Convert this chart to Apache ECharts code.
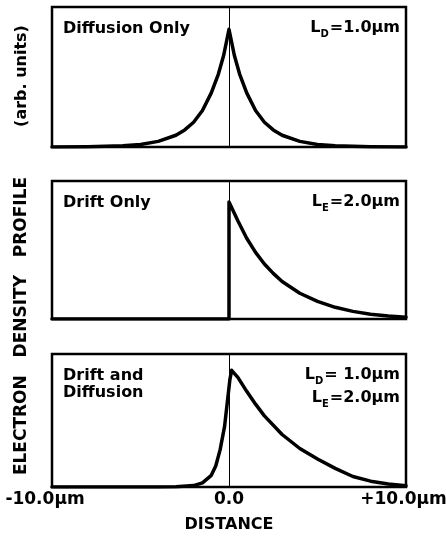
<!DOCTYPE html>
<html>
<head>
<meta charset="utf-8">
<script src="https://cdn.jsdelivr.net/npm/echarts@6/dist/echarts.min.js"></script>
<style>
  html, body { margin: 0; padding: 0; background: #fff; }
  #chart { width: 446px; height: 537px; }
</style>
</head>
<body>
<div id="chart"></div>
<script>
// Electron density profiles (arb. units) versus distance in micrometres.

// Diffusion only, L_D = 1.0 um
const diffX = [-10, -8, -6, -5, -4, -3, -2.5, -2, -1.5, -1, -0.6, -0.3, 0, 0.3, 0.6, 1, 1.5, 2, 2.5, 3, 4, 5, 6, 8, 10];
const diffY = [0, 0.003, 0.011, 0.022, 0.048, 0.1, 0.145, 0.21, 0.31, 0.46, 0.62, 0.78, 1.0, 0.78, 0.62, 0.46, 0.31, 0.21, 0.145, 0.1, 0.048, 0.022, 0.011, 0.003, 0];

// Drift only, L_E = 2.0 um
const driftX = [-10, 0, 0, 0.5, 1, 1.5, 2, 2.5, 3, 4, 5, 6, 7, 8, 9, 10];
const driftY = [0, 0, 1.0, 0.84, 0.69, 0.57, 0.47, 0.39, 0.32, 0.22, 0.15, 0.1, 0.065, 0.04, 0.025, 0.015];

// Drift and diffusion, L_D = 1.0 um, L_E = 2.0 um
const bothX = [-10, -4, -3, -2, -1.5, -1, -0.75, -0.5, -0.25, -0.1, 0.05, 0.15, 0.5, 1, 1.5, 2, 3, 4, 5, 6, 7, 8, 9, 10];
const bothY = [0, 0, 0.003, 0.012, 0.035, 0.1, 0.18, 0.32, 0.52, 0.72, 0.92, 1.0, 0.94, 0.82, 0.71, 0.61, 0.45, 0.33, 0.24, 0.16, 0.09, 0.05, 0.025, 0.01];

const xTickLabels = ['-10.0\u03bcm', '0.0', '+10.0\u03bcm'];
const panelTitles = ['Diffusion Only', 'Drift Only', 'Drift and\nDiffusion'];
const panelParams = [
  [['L', 'D', '=1.0\u03bcm']],
  [['L', 'E', '=2.0\u03bcm']],
  [['L', 'D', '= 1.0\u03bcm'], ['L', 'E', '=2.0\u03bcm']]
];
const yMax = [1.19, 1.18, 1.14];

const FONT = '"DejaVu Sans", "Liberation Sans", sans-serif';

const grids = [
  { left: 52, right: 40, top: 7, height: 140 },
  { left: 52, right: 40, top: 181, height: 138 },
  { left: 52, right: 40, top: 354, height: 133 }
].map(g => Object.assign(g, {
  show: true, borderColor: '#000', borderWidth: 2.5, backgroundColor: 'transparent',
  containLabel: false, outerBoundsMode: 'none'
}));

const tickFont = { color: '#000', fontFamily: FONT, fontWeight: 'bold', fontSize: 17 };

const xAxes = grids.map((g, i) => {
  const last = i === grids.length - 1;
  return {
    type: 'value', gridIndex: i, min: -10, max: 10, interval: 10,
    axisLine: { show: false }, axisTick: { show: false }, splitLine: { show: false },
    axisLabel: last ? Object.assign({
      show: true, margin: 4, hideOverlap: false,
      formatter: v => {
        const idx = Math.round((v + 10) / 10);
        const t = xTickLabels[idx];
        if (idx === 0) return '{l|' + t + '}';
        if (idx === 2) return '{r|' + t + '}';
        return t;
      },
      rich: {
        l: Object.assign({ padding: [0, 14, 0, 0] }, tickFont),
        r: Object.assign({ padding: [0, 5, 0, 0] }, tickFont)
      }
    }, tickFont) : { show: false },
    name: last ? 'DISTANCE' : '',
    nameLocation: 'middle', nameGap: 30,
    nameTextStyle: { color: '#000', fontFamily: FONT, fontWeight: 'bold', fontSize: 16 }
  };
});

const yAxes = grids.map((g, i) => ({
  type: 'value', gridIndex: i, min: 0, max: yMax[i], show: false
}));

function pairs(xs, ys) { return xs.map((x, i) => [x, ys[i]]); }
const curves = [pairs(diffX, diffY), pairs(driftX, driftY), pairs(bothX, bothY)];

const series = curves.map((data, i) => ({
  type: 'line', xAxisIndex: i, yAxisIndex: i, data,
  showSymbol: false, smooth: false, silent: true, animation: false,
  lineStyle: { color: '#000', width: 3.5, cap: 'round', join: 'round' },
  markLine: {
    silent: true, symbol: ['none', 'none'], label: { show: false },
    lineStyle: { color: '#000', width: 1, type: 'solid' },
    data: [{ xAxis: 0 }]
  }
}));

const rich = {
  n: { fontFamily: FONT, fontWeight: 'bold', fontSize: 16, color: '#000', lineHeight: 16, verticalAlign: 'top' },
  s: { fontFamily: FONT, fontWeight: 'bold', fontSize: 10, color: '#000', lineHeight: 10, verticalAlign: 'top', padding: [9, 1, 0, 0] }
};

const graphic = [];
panelTitles.forEach((t, i) => {
  const g = grids[i];
  graphic.push({
    type: 'text', left: 63, top: g.top + 13,
    style: { text: t, fontFamily: FONT, fontWeight: 'bold', fontSize: 16, lineHeight: 17, fill: '#000' }
  });
  panelParams[i].forEach((p, j) => {
    graphic.push({
      type: 'text', right: 46, top: g.top + 13 + j * 23,
      style: { text: '{n|' + p[0] + '}{s|' + p[1] + '}{n|' + p[2] + '}', rich }
    });
  });
});

// rotated axis titles
graphic.push({
  type: 'text', x: 14, y: 76, rotation: Math.PI / 2,
  style: { text: '(arb. units)', fontFamily: FONT, fontWeight: 'bold', fontSize: 16, fill: '#000', align: 'center', verticalAlign: 'top' }
});
graphic.push({
  type: 'text', x: 13, y: 326, rotation: Math.PI / 2,
  style: { text: 'ELECTRON   DENSITY   PROFILE', fontFamily: FONT, fontWeight: 'bold', fontSize: 17, fill: '#000', align: 'center', verticalAlign: 'top' }
});

const chart = echarts.init(document.getElementById('chart'), null, { renderer: 'canvas' });
chart.setOption({
  animation: false,
  backgroundColor: '#fff',
  grid: grids, xAxis: xAxes, yAxis: yAxes, series, graphic
});
</script>
</body>
</html>
